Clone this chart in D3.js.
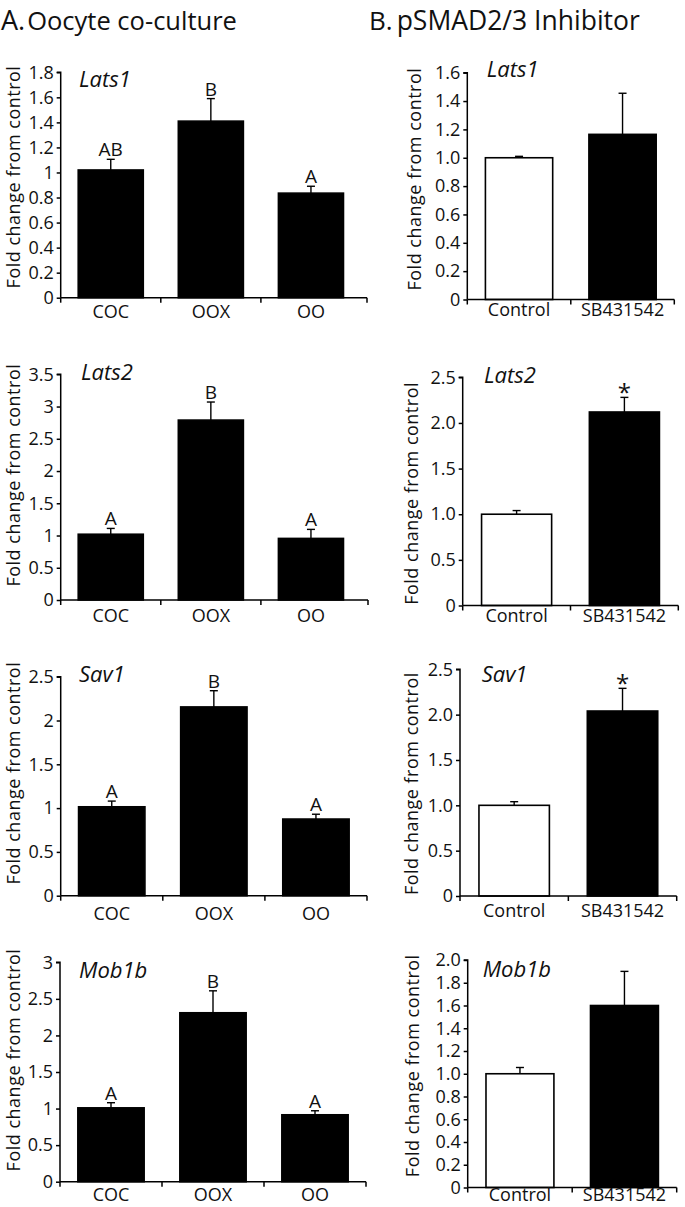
<!DOCTYPE html>
<html>
<head>
<meta charset="utf-8">
<script src="https://cdn.jsdelivr.net/npm/d3@7"></script>
<style>
  html, body { margin: 0; padding: 0; background: #fff; }
  svg { display: block; }
  text { font-family: "Open Sans", sans-serif; fill: #111; }
</style>
</head>
<body>
<svg id="chart" width="685" height="1207"></svg>
<script>
// ---------------- DATA ----------------
const genes = ["Lats1", "Lats2", "Sav1", "Mob1b"];
const groupsA = ["COC", "OOX", "OO"];
const groupsB = ["Control", "SB431542"];

// Panel A: Oocyte co-culture (mean, SEM)
const meanA_Lats1 = [1.02, 1.41, 0.835];
const errA_Lats1  = [0.085, 0.18, 0.055];
const meanA_Lats2 = [1.02, 2.79, 0.955];
const errA_Lats2  = [0.09, 0.28, 0.14];
const meanA_Sav1  = [1.015, 2.155, 0.875];
const errA_Sav1   = [0.065, 0.185, 0.055];
const meanA_Mob1b = [1.01, 2.31, 0.915];
const errA_Mob1b  = [0.07, 0.30, 0.055];
const lettersA_Lats1 = ["AB", "B", "A"];
const lettersA_Lats2 = ["A", "B", "A"];
const lettersA_Sav1  = ["A", "B", "A"];
const lettersA_Mob1b = ["A", "B", "A"];

// Panel B: pSMAD2/3 inhibitor (mean, SEM)
const meanB_Lats1 = [1.0, 1.165];
const errB_Lats1  = [0.01, 0.29];
const meanB_Lats2 = [1.0, 2.12];
const errB_Lats2  = [0.04, 0.16];
const meanB_Sav1  = [1.0, 2.04];
const errB_Sav1   = [0.04, 0.25];
const meanB_Mob1b = [1.0, 1.6];
const errB_Mob1b  = [0.055, 0.30];
const sigB_Lats1 = ["", ""];
const sigB_Lats2 = ["", "*"];
const sigB_Sav1  = ["", "*"];
const sigB_Mob1b = ["", ""];

// Tick values / labels
const ticksA_Lats1 = [0, 0.2, 0.4, 0.6, 0.8, 1, 1.2, 1.4, 1.6, 1.8];
const tickLabA_Lats1 = ["0", "0.2", "0.4", "0.6", "0.8", "1", "1.2", "1.4", "1.6", "1.8"];
const ticksA_Lats2 = [0, 0.5, 1, 1.5, 2, 2.5, 3, 3.5];
const tickLabA_Lats2 = ["0", "0.5", "1", "1.5", "2", "2.5", "3", "3.5"];
const ticksA_Sav1 = [0, 0.5, 1, 1.5, 2, 2.5];
const tickLabA_Sav1 = ["0", "0.5", "1", "1.5", "2", "2.5"];
const ticksA_Mob1b = [0, 0.5, 1, 1.5, 2, 2.5, 3];
const tickLabA_Mob1b = ["0", "0.5", "1", "1.5", "2", "2.5", "3"];
const ticksB_Lats1 = [0, 0.2, 0.4, 0.6, 0.8, 1.0, 1.2, 1.4, 1.6];
const tickLabB_Lats1 = ["0", "0.2", "0.4", "0.6", "0.8", "1.0", "1.2", "1.4", "1.6"];
const ticksB_Lats2 = [0, 0.5, 1.0, 1.5, 2.0, 2.5];
const tickLabB_Lats2 = ["0", "0.5", "1.0", "1.5", "2.0", "2.5"];
const ticksB_Sav1 = [0, 0.5, 1.0, 1.5, 2.0, 2.5];
const tickLabB_Sav1 = ["0", "0.5", "1.0", "1.5", "2.0", "2.5"];
const ticksB_Mob1b = [0, 0.2, 0.4, 0.6, 0.8, 1.0, 1.2, 1.4, 1.6, 1.8, 2.0];
const tickLabB_Mob1b = ["0", "0.2", "0.4", "0.6", "0.8", "1.0", "1.2", "1.4", "1.6", "1.8", "2.0"];

const yTitle = "Fold change from control";
const titleA = ["A.", "Oocyte co-culture"];
const titleB = ["B.", "pSMAD2/3 Inhibitor"];

// ---------------- PANELS ----------------
const panels = [
  // column A
  { gene: genes[0], cats: groupsA, mean: meanA_Lats1, err: errA_Lats1, marks: lettersA_Lats1, ticks: ticksA_Lats1, labs: tickLabA_Lats1, fills: ["#000","#000","#000"],
    L: { ax: 60.7, bandEnd: 361, axEnd: 367, y0: 297.7, yT: 72.3, gx: 79, gy: 87, xlab: 20.5, tx: 19.5, tyShift: -8 } },
  { gene: genes[1], cats: groupsA, mean: meanA_Lats2, err: errA_Lats2, marks: lettersA_Lats2, ticks: ticksA_Lats2, labs: tickLabA_Lats2, fills: ["#000","#000","#000"],
    L: { ax: 60.7, bandEnd: 361, axEnd: 368, y0: 600, yT: 374.3, gx: 81, gy: 380, xlab: 21.7, tx: 19.5, tyShift: -12 } },
  { gene: genes[2], cats: groupsA, mean: meanA_Sav1, err: errA_Sav1, marks: lettersA_Sav1, ticks: ticksA_Sav1, labs: tickLabA_Sav1, fills: ["#000","#000","#000"],
    L: { ax: 60.7, bandEnd: 367, axEnd: 367, y0: 895.7, yT: 676.7, gx: 79, gy: 681.7, xlab: 24, tx: 19.5, tyShift: -13 } },
  { gene: genes[3], cats: groupsA, mean: meanA_Mob1b, err: errA_Mob1b, marks: lettersA_Mob1b, ticks: ticksA_Mob1b, labs: tickLabA_Mob1b, fills: ["#000","#000","#000"],
    L: { ax: 60, bandEnd: 366, axEnd: 366, y0: 1181.7, yT: 962.3, gx: 79, gy: 978.3, xlab: 19.3, tx: 19.5, tyShift: -12 } },
  // column B
  { gene: genes[0], cats: groupsB, mean: meanB_Lats1, err: errB_Lats1, marks: sigB_Lats1, ticks: ticksB_Lats1, labs: tickLabB_Lats1, fills: ["#fff","#000"],
    L: { ax: 467.3, bandEnd: 674.3, axEnd: 674.3, y0: 299.5, yT: 72.7, gx: 486.7, gy: 77.3, xlab: 16.7, tx: 421, tyShift: -7 } },
  { gene: genes[1], cats: groupsB, mean: meanB_Lats2, err: errB_Lats2, marks: sigB_Lats2, ticks: ticksB_Lats2, labs: tickLabB_Lats2, fills: ["#fff","#000"],
    L: { ax: 462.7, bandEnd: 678.3, axEnd: 678.3, y0: 605.5, yT: 377.3, gx: 484, gy: 382.7, xlab: 16, tx: 418, tyShift: 2 } },
  { gene: genes[2], cats: groupsB, mean: meanB_Sav1, err: errB_Sav1, marks: sigB_Sav1, ticks: ticksB_Sav1, labs: tickLabB_Sav1, fills: ["#fff","#000"],
    L: { ax: 460, bandEnd: 676.7, axEnd: 676.7, y0: 896, yT: 669.3, gx: 481.7, gy: 681.7, xlab: 21, tx: 418, tyShift: 1 } },
  { gene: genes[3], cats: groupsB, mean: meanB_Mob1b, err: errB_Mob1b, marks: sigB_Mob1b, ticks: ticksB_Mob1b, labs: tickLabB_Mob1b, fills: ["#fff","#000"],
    L: { ax: 467.7, bandEnd: 676.7, axEnd: 676.7, y0: 1187.5, yT: 960, gx: 482.7, gy: 976.7, xlab: 13.5, tx: 419, tyShift: -8 } }
];

const svg = d3.select("#chart");

// Section titles
function sectionTitle(x, y, parts, s1, s2, gap) {
  const t = svg.append("text").attr("x", x).attr("y", y);
  t.append("tspan").text(parts[0]).attr("font-size", s1);
  t.append("tspan").text(parts[1]).attr("font-size", s2).attr("dx", gap);
}
sectionTitle(1, 29.5, titleA, 27, 25.5, 2);
sectionTitle(369, 29.5, titleB, 26, 26.5, 4);

panels.forEach(p => {
  const L = p.L;
  const g = svg.append("g");
  const yMax = p.ticks[p.ticks.length - 1];
  const y = d3.scaleLinear().domain([0, yMax]).range([L.y0, L.yT]);
  const x = d3.scaleBand().domain(p.cats).range([L.ax, L.bandEnd]).paddingInner(0.35).paddingOuter(0.175);

  // bars
  g.selectAll("rect.bar").data(p.cats).join("rect")
    .attr("class", "bar")
    .attr("x", d => x(d))
    .attr("width", x.bandwidth())
    .attr("y", (d, i) => y(p.mean[i]))
    .attr("height", (d, i) => y(0) - y(p.mean[i]))
    .attr("fill", (d, i) => p.fills[i])
    .attr("stroke", "#000")
    .attr("stroke-width", 1.6);

  // error bars (upper only)
  const cx = d => x(d) + x.bandwidth() / 2;
  g.selectAll("line.err").data(p.cats).join("line")
    .attr("class", "err")
    .attr("x1", cx).attr("x2", cx)
    .attr("y1", (d, i) => y(p.mean[i]))
    .attr("y2", (d, i) => y(p.mean[i] + p.err[i]))
    .attr("stroke", "#000").attr("stroke-width", 1.4);
  g.selectAll("line.cap").data(p.cats).join("line")
    .attr("class", "cap")
    .attr("x1", d => cx(d) - 4).attr("x2", d => cx(d) + 4)
    .attr("y1", (d, i) => y(p.mean[i] + p.err[i]))
    .attr("y2", (d, i) => y(p.mean[i] + p.err[i]))
    .attr("stroke", "#000").attr("stroke-width", 1.4);

  // significance letters / asterisks
  g.selectAll("text.mark").data(p.cats).join("text")
    .attr("class", "mark")
    .attr("x", cx)
    .attr("y", (d, i) => y(p.mean[i] + p.err[i]) - (p.marks[i] === "*" ? -4 : 3))
    .attr("text-anchor", "middle")
    .attr("font-size", (d, i) => p.marks[i] === "*" ? 24 : 19)
    .text((d, i) => p.marks[i]);

  // y axis
  const yAxis = d3.axisLeft(y).tickValues(p.ticks).tickSize(4).tickSizeOuter(0)
    .tickFormat((d, i) => p.labs[i]);
  const ya = g.append("g").attr("transform", `translate(${L.ax},0)`).call(yAxis);
  ya.select(".domain").attr("stroke", "#000").attr("stroke-width", 1.5)
    .attr("d", `M-4,${L.yT}H0V${L.y0}`);
  ya.selectAll(".tick line").attr("stroke", "#000").attr("stroke-width", 1.5);
  ya.selectAll(".tick text").attr("font-size", 18).attr("fill", "#111")
    .attr("font-family", "Open Sans, sans-serif").attr("x", -7);

  // x axis line + boundary ticks
  g.append("line")
    .attr("x1", L.ax).attr("x2", L.axEnd).attr("y1", L.y0).attr("y2", L.y0)
    .attr("stroke", "#000").attr("stroke-width", 1.5);
  const bounds = [L.ax].concat(p.cats.slice(1).map(d => x(d) - x.step() * x.paddingInner() / 2)).concat([L.axEnd]);
  g.selectAll("line.xt").data(bounds).join("line")
    .attr("class", "xt")
    .attr("x1", d => d).attr("x2", d => d)
    .attr("y1", L.y0).attr("y2", L.y0 + 5)
    .attr("stroke", "#000").attr("stroke-width", 1.5);

  // x labels
  g.selectAll("text.xl").data(p.cats).join("text")
    .attr("class", "xl")
    .attr("x", cx)
    .attr("y", L.y0 + L.xlab)
    .attr("text-anchor", "middle")
    .attr("font-size", 18)
    .text(d => d);

  // gene label
  g.append("text")
    .attr("x", L.gx).attr("y", L.gy)
    .attr("font-size", 22)
    .attr("font-style", "italic")
    .text(p.gene);

  // y title
  const ty = (L.y0 + L.yT) / 2 + L.tyShift;
  g.append("text")
    .attr("transform", `translate(${L.tx},${ty}) rotate(-90)`)
    .attr("text-anchor", "middle")
    .attr("font-size", 18)
    .attr("letter-spacing", 0.5)
    .text(yTitle);
});
</script>
</body>
</html>
